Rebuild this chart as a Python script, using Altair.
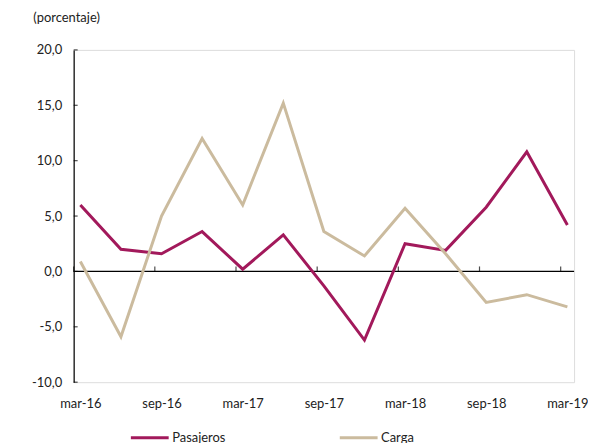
import json
import altair as alt
import pandas as pd

quarters = ["mar-16", "jun-16", "sep-16", "dec-16", "mar-17", "jun-17", "sep-17",
            "dec-17", "mar-18", "jun-18", "sep-18", "dec-18", "mar-19"]
pasajeros = [6.0, 2.0, 1.6, 3.6, 0.2, 3.3, -1.3, -6.2, 2.5, 1.9, 5.8, 10.8, 4.2]
carga = [0.9, -5.9, 5.0, 12.0, 6.0, 15.2, 3.6, 1.4, 5.7, 1.6, -2.8, -2.1, -3.2]
series = ["Pasajeros", "Carga"]
colors = ["#A2195B", "#CBBB9E"]
y_ticks = [-10, -5, 0, 5, 10, 15, 20]
x_label_idx = [0, 2, 4, 6, 8, 10, 12]

W, H = 503, 334
X_MIN, X_MAX = -0.165, 12.165
FONT = "Lato"

rows = []
for i, q in enumerate(quarters):
    rows.append({"i": i, "q": q, "serie": "Pasajeros", "v": pasajeros[i]})
    rows.append({"i": i, "q": q, "serie": "Carga", "v": carga[i]})
df = pd.DataFrame(rows)

xscale = alt.Scale(domain=[X_MIN, X_MAX], nice=False, zero=False)
yscale = alt.Scale(domain=[-10, 20], nice=False, zero=False)

label_expr = json.dumps(quarters) + "[datum.value]"
ylabel_expr = "(datum.value < 0 ? '-' : '') + replace(format(abs(datum.value), '.1f'), '.', ',')"

lines = alt.Chart(df).mark_line(strokeWidth=3).encode(
    x=alt.X("i:Q", scale=xscale,
            axis=alt.Axis(values=x_label_idx, labelExpr=label_expr, title=None,
                          domain=False, ticks=False, grid=False, labelPadding=15,
                          labelFontSize=13, labelFont=FONT, labelColor="#222",
                          labelOverlap=False, labelBound=False, labelFlush=False)),
    y=alt.Y("v:Q", scale=yscale,
            axis=alt.Axis(values=y_ticks, labelExpr=ylabel_expr, grid=False,
                          ticks=False, domainColor="black", domainWidth=1.2,
                          labelPadding=12, labelFontSize=13, labelFont=FONT,
                          labelColor="#222",
                          title="(porcentaje)", titleAngle=0, titleAlign="left",
                          titleBaseline="alphabetic", titleX=-41, titleY=-29,
                          titleFont=FONT, titleFontSize=13, titleFontWeight="normal",
                          titleColor="#222")),
    color=alt.Color("serie:N", scale=alt.Scale(domain=series, range=colors),
                    legend=alt.Legend(title=None, orient="none", legendX=56, legendY=369,
                                      direction="horizontal", symbolType="stroke",
                                      symbolSize=1444, symbolStrokeWidth=3,
                                      labelFontSize=13, labelFont=FONT, labelColor="#222",
                                      labelOffset=2, columnPadding=108, padding=0)),
    order="i:Q",
)

zero_df = pd.DataFrame({"y": [0]})
zero_line = alt.Chart(zero_df).mark_rule(color="black", strokeWidth=1.2).encode(
    y=alt.Y("y:Q", scale=yscale),
    x=alt.value(0), x2=alt.value(W),
)

tick_df = pd.DataFrame({"t": [X_MIN + k for k in x_label_idx], "y": [0] * len(x_label_idx)})
x_ticks = alt.Chart(tick_df).mark_tick(orient="vertical", size=5, thickness=1.2,
                                        color="black", yOffset=-2.5).encode(
    x=alt.X("t:Q", scale=xscale), y=alt.Y("y:Q", scale=yscale)
)

ytick_df = pd.DataFrame({"v": y_ticks, "x": [X_MIN] * len(y_ticks)})
y_tick_marks = alt.Chart(ytick_df).mark_tick(orient="horizontal", size=4, thickness=1.2,
                                             color="black", xOffset=2).encode(
    y=alt.Y("v:Q", scale=yscale), x=alt.X("x:Q", scale=xscale)
)

chart = alt.layer(zero_line, x_ticks, y_tick_marks, lines).properties(
    width=W, height=H,
    autosize=alt.AutoSizeParams(type="none"),
    padding={"left": 66, "top": 41, "right": 14, "bottom": 60},
).configure_view(stroke=None).configure(background="white")

chart.save("out.html", embed_options={"renderer": "svg", "actions": False})
